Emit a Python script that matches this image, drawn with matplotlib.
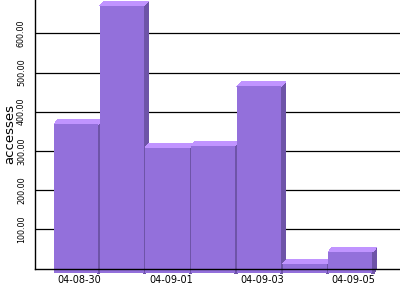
import matplotlib
matplotlib.use("Agg")
import matplotlib.pyplot as plt
from matplotlib.patches import Polygon

dates = ["04-08-30", "04-08-31", "04-09-01", "04-09-02", "04-09-03", "04-09-04", "04-09-05"]
accesses = [380, 682, 320, 325, 476, 23, 54]
y_ticks = [100, 200, 300, 400, 500, 600]
y_tick_labels = ["100.00", "200.00", "300.00", "400.00", "500.00", "600.00"]

FRONT = "#9370DB"
TOP = "#C094FF"
SIDE = "#6E54A8"

fig = plt.figure(figsize=(4, 3), dpi=100)
ax = fig.add_axes([35 / 400, (300 - 268.5) / 300, 365 / 400, 268.5 / 300])
ax.set_xlim(-0.416, 7.571)
ax.set_ylim(0, 685)

dx = 0.094   # depth offset in x (bar units)
dy = 11.5    # depth offset in y (value units)
w = 0.965

for yt in y_ticks:
    ax.axhline(yt, color="black", lw=0.9, zorder=0.5)

for i, v in enumerate(accesses):
    x0, x1 = i, i + w
    front = Polygon([(x0, -dy), (x1, -dy), (x1, v - dy), (x0, v - dy)],
                    closed=True, facecolor=FRONT, edgecolor="none", clip_on=False, zorder=1)
    top = Polygon([(x0, v - dy), (x0 + dx, v), (x1 + dx, v), (x1, v - dy)],
                  closed=True, facecolor=TOP, edgecolor="none", clip_on=False, zorder=1)
    side = Polygon([(x1 - 0.01, -dy), (x1 - 0.01, v - dy), (x1 + dx, v), (x1 + dx, 0),
                    (i + 1.005, -dy)],
                   closed=True, facecolor=SIDE, edgecolor="none", clip_on=False, zorder=1)
    for p in (side, top, front):
        p.set_antialiased(False)
        ax.add_patch(p)

ax.spines["top"].set_visible(False)
ax.spines["right"].set_visible(False)
ax.spines["left"].set_linewidth(1.0)
ax.spines["bottom"].set_linewidth(1.0)
ax.spines["bottom"].set_zorder(3)

ax.set_yticks(y_ticks)
ax.set_yticklabels(y_tick_labels, fontsize=5.8, rotation=90, va="center")
ax.tick_params(axis="y", length=0, pad=6.5)

xt = [i + 0.5 + 0.06 for i in range(0, len(dates), 2)]
ax.set_xticks(xt)
ax.set_xticklabels([dates[i] for i in range(0, len(dates), 2)], fontsize=7)
ax.tick_params(axis="x", length=0, pad=5)

fig.text(9.5 / 400, 1 - 134.5 / 300, "accesses", rotation=90, fontsize=9.5,
         ha="center", va="center")

fig.savefig("out.png", dpi=100)
